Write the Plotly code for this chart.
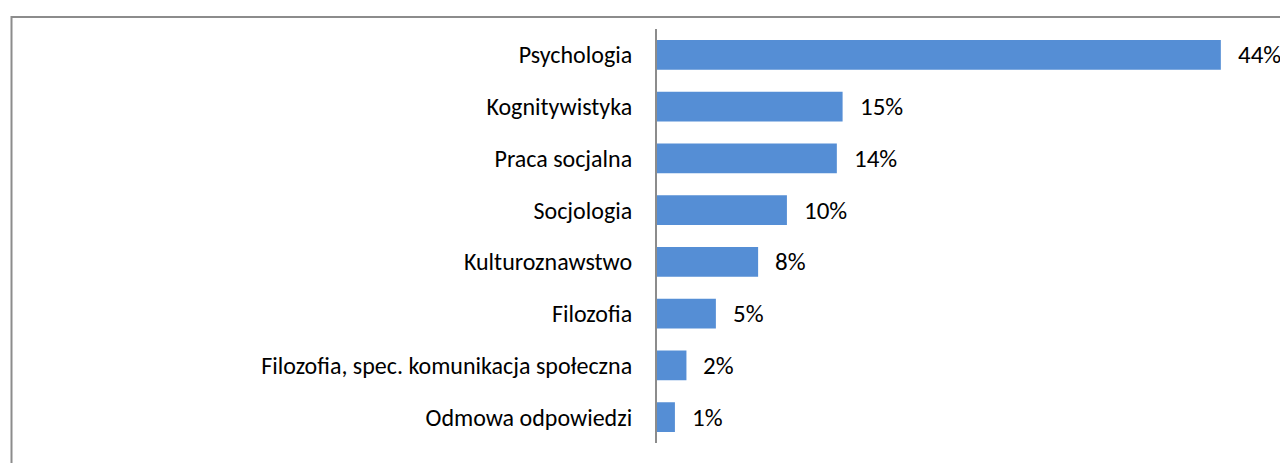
import plotly.graph_objects as go

categories = [
    "Psychologia",
    "Kognitywistyka",
    "Praca socjalna",
    "Socjologia",
    "Kulturoznawstwo",
    "Filozofia",
    "Filozofia, spec. komunikacja społeczna",
    "Odmowa odpowiedzi",
]
values = [44.05, 14.5, 14.05, 10.15, 7.9, 4.6, 2.3, 1.4]
value_labels = ["44%", "15%", "14%", "10%", "8%", "5%", "2%", "1%"]

W, H = 1280, 463
L, R, T, B = 657, 0, 29, 20
plot_w = W - L - R
plot_h = H - T - B
px_per_unit = 12.8
xmax = plot_w / px_per_unit

FONT = "Calibri, Carlito, Lato, sans-serif"

fig = go.Figure(
    go.Bar(
        x=values,
        y=categories,
        orientation="h",
        marker=dict(color="#558ED5", line=dict(width=0)),
        width=0.575,
        hoverinfo="skip",
    )
)

for v, c, t in zip(values, categories, value_labels):
    fig.add_annotation(
        x=v, y=c, text=t, showarrow=False, xanchor="left", yanchor="middle",
        xshift=15, font=dict(family=FONT, size=25, color="#000000"),
    )

# chart border (cropped at right/bottom in the reference)
fig.add_shape(
    type="rect", xref="paper", yref="paper",
    x0=(11.5 - L) / plot_w, x1=1.2,
    y0=-0.3, y1=1 + (T - 17) / plot_h,
    line=dict(color="#8C8C8C", width=2), fillcolor="rgba(0,0,0,0)",
)

fig.update_layout(
    width=W, height=H,
    margin=dict(l=L, r=R, t=T, b=B, pad=0),
    paper_bgcolor="white", plot_bgcolor="white",
    showlegend=False,
)
fig.update_xaxes(range=[0, xmax], visible=False, fixedrange=True)
fig.update_yaxes(
    autorange="reversed",
    showline=True, linecolor="#8C8C8C", linewidth=2,
    showgrid=False, zeroline=False, ticks="",
    ticklabelstandoff=18,
    tickfont=dict(family=FONT, size=24, color="#000000"),
    fixedrange=True,
)

fig.write_html(
    "out.html",
    config={"displayModeBar": False},
    post_script="document.body.style.margin='0';document.body.style.overflow='hidden';",
)
